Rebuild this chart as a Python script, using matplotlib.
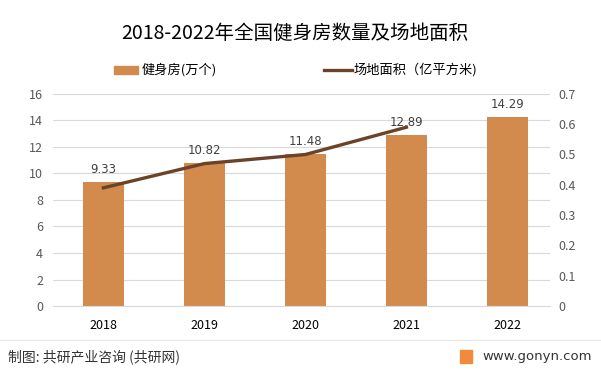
import matplotlib.pyplot as plt
import numpy as np

plt.rcParams['font.family'] = ['Noto Sans CJK SC', 'DejaVu Sans']

years = ["2018", "2019", "2020", "2021", "2022"]
gyms = [9.33, 10.82, 11.48, 12.89, 14.29]
area_years = ["2018", "2019", "2020", "2021"]
area = [0.39, 0.47, 0.50, 0.59]

bar_color = "#D38B4D"
line_color = "#6B4328"
tick_color = "#595959"

fig = plt.figure(figsize=(6.01, 3.71), dpi=100)
ax = fig.add_axes([0.088, 0.175, 0.827, 0.572])
ax2 = ax.twinx()

x = np.arange(len(years))
ax.bar(x, gyms, width=0.4, color=bar_color, zorder=2)
for xi, v in zip(x, gyms):
    ax.text(xi, v + 0.45, f"{v:.2f}", ha="center", va="bottom", fontsize=8.5, color="#404040",
            family="DejaVu Sans")

xa = np.arange(len(area_years))
ax2.plot(xa, area, color=line_color, linewidth=2.4, zorder=3)

ax.set_ylim(0, 16)
ax.set_yticks(range(0, 17, 2))
ax2.set_ylim(0, 0.7)
ax2.set_yticks(np.arange(0, 0.71, 0.1))
ax2.set_yticklabels(["0", "0.1", "0.2", "0.3", "0.4", "0.5", "0.6", "0.7"])
ax.set_xlim(-0.5, 4.42)
ax.set_xticks(x)
ax.set_xticklabels(years)

ax.grid(axis="y", color="#D9D9D9", linewidth=0.8, zorder=0)
ax.set_axisbelow(True)
for a in (ax, ax2):
    for s in a.spines.values():
        s.set_visible(False)
    a.tick_params(length=0, labelsize=9, colors=tick_color)
ax.spines["bottom"].set_visible(True)
ax.spines["bottom"].set_color("#D9D9D9")
ax.tick_params(axis="x", colors="#000000", pad=9)
ax.tick_params(axis="y", pad=7)
ax2.tick_params(axis="y", pad=6)

fig.text(0.491, 0.91, "2018-2022年全国健身房数量及场地面积", ha="center", va="center",
         fontsize=14, color="#000000")

# legend
fig.patches.append(plt.Rectangle((0.19, 0.80), 0.04, 0.022, transform=fig.transFigure,
                                 color=bar_color))
fig.text(0.236, 0.811, "健身房(万个)", ha="left", va="center", fontsize=9.5)
fig.lines.append(plt.Line2D([0.539, 0.585], [0.811, 0.811], transform=fig.transFigure,
                            color=line_color, linewidth=2.4))
fig.text(0.588, 0.811, "场地面积（亿平方米)", ha="left", va="center", fontsize=9.5)

# footer
fig.lines.append(plt.Line2D([0.0, 1.0], [0.083, 0.083], transform=fig.transFigure,
                            color="#E6E6E6", linewidth=0.8))
fig.text(0.013, 0.038, "制图: 共研产业咨询 (共研网)", ha="left", va="center", fontsize=10,
         color="#333333")
fig.patches.append(plt.Rectangle((0.766, 0.022), 0.02, 0.035, transform=fig.transFigure,
                                 color="#F08A3C"))
fig.text(0.985, 0.038, "www.gonyn.com", ha="right", va="center", fontsize=9.5,
         color="#333333", family="DejaVu Sans")

fig.savefig("out.png", dpi=100)
